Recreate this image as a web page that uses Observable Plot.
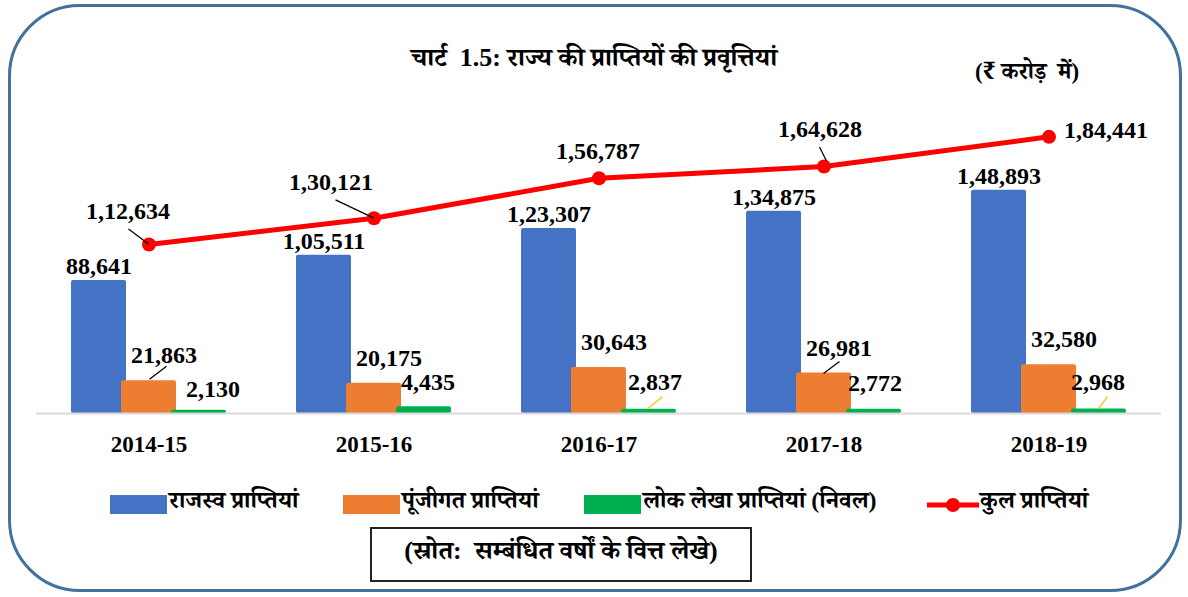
<!DOCTYPE html>
<html>
<head>
<meta charset="utf-8">
<script src="https://cdn.jsdelivr.net/npm/d3@7"></script>
<script src="https://cdn.jsdelivr.net/npm/@observablehq/plot@0.6"></script>
<style>
  html, body { margin: 0; padding: 0; background: #fff; }
  #page { position: relative; width: 1188px; height: 597px; overflow: hidden;
    font-family: "Liberation Serif", "Times New Roman", "Noto Serif Devanagari", "Noto Sans Devanagari", serif; font-weight: bold; color: #000; }
  #frame { position: absolute; left: 8px; top: 4px; width: 1168px; height: 582px; border: 3px solid #41719C; border-radius: 72px; }
  #title { position: absolute; left: 0; width: 1188px; top: 42px; text-align: center; font-size: 26px; white-space: pre; }
  #unit { position: absolute; left: 975px; top: 58px; font-size: 23px; white-space: pre; }
  #chart { position: absolute; left: 0; top: 90px; }
  .leg { position: absolute; top: 486px; font-size: 24px; display: flex; align-items: center; white-space: nowrap; }
  .sw { width: 57px; height: 19px; margin-right: 2px; }
  #source { position: absolute; left: 370px; top: 527px; width: 378px; height: 51px; border: 2px solid #222;
    display: flex; align-items: center; justify-content: center; font-size: 26px; white-space: pre; }
</style>
</head>
<body>
<div id="page">
  <div id="frame"></div>
  <div id="title"></div>
  <div id="unit"></div>
  <div id="chart"></div>
  <div id="legend"></div>
  <div id="source"></div>
</div>
<script>
// ---- data ----
const years = ["2014-15", "2015-16", "2016-17", "2017-18", "2018-19"];
const revenueReceipts = [88641, 105511, 123307, 134875, 148893];
const capitalReceipts = [21863, 20175, 30643, 26981, 32580];
const publicAccountReceipts = [2130, 4435, 2837, 2772, 2968];
const totalReceipts = [112634, 130121, 156787, 164628, 184441];
const seriesNames = ["राजस्व प्राप्तियां", "पूंजीगत प्राप्तियां", "लोक लेखा प्राप्तियां (निवल)", "कुल प्राप्तियां"];
const titleText = "चार्ट  1.5: राज्य की प्राप्तियों की प्रवृत्तियां";
const unitText = "(₹ करोड़  में)";
const sourceText = "(स्रोत:  सम्बंधित वर्षों के वित्त लेखे)";

// ---- styles ----
const colors = ["#4472C4", "#ED7D31", "#00B050", "#FF0000"];
const FONT = `"Liberation Serif", "Times New Roman", serif`;

document.getElementById("title").textContent = titleText;
document.getElementById("unit").textContent = unitText;
document.getElementById("source").textContent = sourceText;

// Indian number format
function fmtIN(v) {
  const s = String(Math.round(v));
  if (s.length <= 3) return s;
  const last3 = s.slice(-3);
  let rest = s.slice(0, -3);
  const parts = [];
  while (rest.length > 2) { parts.unshift(rest.slice(-2)); rest = rest.slice(0, -2); }
  if (rest.length) parts.unshift(rest);
  return parts.join(",") + "," + last3;
}

const rows = years.map((y, i) => ({
  year: y, rev: revenueReceipts[i], cap: capitalReceipts[i], pub: publicAccountReceipts[i], total: totalReceipts[i]
}));

// label offsets (pixels) -- styling
const totalOff = [[-21, -33, "middle"], [-43, -36, "middle"], [-1, -27, "middle"], [-4, -37, "middle"], [15, -7, "start"]];
const pubDx = [14, 4, 6, 1, -1];
const pubDy = [-21, -25, -27, -26, -27];

const BW = 55, STEP = 50, INSET = (225 - BW) / 2;
const textStyle = {fontFamily: FONT, fontWeight: "bold", fontSize: 24, fill: "#000"};

function barMark(key, color, dx) {
  return Plot.barY(rows, {x: "year", y: key, fill: color, dx, insetLeft: INSET, insetRight: INSET, rx: 2});
}

// leader lines drawn via scales
const leaders = [
  // [field, year index, barOffset, x1off,y1off,x2off,y2off, color]
  ["total", 0, 0, 0, 0, -20, -15, "#000"],
  ["total", 1, 0, 0, 0, -38, -18, "#000"],
  ["total", 3, 0, 3, -5, -4, -19, "#000"],
  ["cap", 0, 0, 1, -1, 18, -14, "#000"],
  ["cap", 3, 0, 0, 1, 16, -11, "#000"],
  ["pub", 2, STEP, -1, 0, 14, -12, "#FFC000"],
  ["pub", 4, STEP, 0, 0, 9, -12, "#FFC000"]
];
function leaderMark(index, scales) {
  const g = d3.create("svg:g");
  const bw = scales.x.bandwidth ? scales.x.bandwidth() : 0;
  for (const [f, i, bo, x1, y1, x2, y2, c] of leaders) {
    const cx = scales.x(rows[i].year) + bw / 2 + bo;
    const cy = scales.y(rows[i][f]);
    g.append("line").attr("x1", cx + x1).attr("y1", cy + y1).attr("x2", cx + x2).attr("y2", cy + y2)
      .attr("stroke", c).attr("stroke-width", 1.3);
  }
  return g.node();
}

const marks = [
  barMark("rev", colors[0], -STEP),
  barMark("cap", colors[1], 0),
  barMark("pub", colors[2], STEP),
  Plot.ruleY([0], {stroke: "#D9D9D9", strokeWidth: 2}),
  Plot.line(rows, {x: "year", y: "total", stroke: colors[3], strokeWidth: 5}),
  Plot.dot(rows, {x: "year", y: "total", r: 7, fill: colors[3]}),
  leaderMark,
  Plot.text(rows, {x: "year", y: "rev", text: d => fmtIN(d.rev), dx: -STEP, dy: -14, ...textStyle}),
  Plot.text(rows, {x: "year", y: "cap", text: d => fmtIN(d.cap), dx: 15, dy: -25, ...textStyle}),
  ...rows.map((r, i) => Plot.text([r], {x: "year", y: "pub", text: d => fmtIN(d.pub), dx: STEP + pubDx[i], dy: pubDy[i], ...textStyle})),
  ...rows.map((r, i) => Plot.text([r], {x: "year", y: "total", text: d => fmtIN(d.total), dx: totalOff[i][0], dy: totalOff[i][1], textAnchor: totalOff[i][2], ...textStyle}))
];

const chart = Plot.plot({
  width: 1188,
  height: 370,
  marginLeft: 36,
  marginRight: 27,
  marginTop: 23,
  marginBottom: 47,
  style: {fontFamily: FONT, background: "transparent", overflow: "visible"},
  x: {type: "band", domain: years, padding: 0, label: null, tickSize: 0, tickPadding: 22},
  y: {domain: [0, 200000], axis: null},
  marks
});
const xa = chart.querySelector("[aria-label='x-axis tick label']") || chart.querySelector("[aria-label='x-axis']");
if (xa) { xa.setAttribute("font-size", "23"); xa.setAttribute("font-weight", "bold"); }
document.getElementById("chart").appendChild(chart);

// legend
const legX = [110, 343, 584, 926];
const legend = document.getElementById("legend");
seriesNames.forEach((name, i) => {
  const item = document.createElement("div");
  item.className = "leg";
  item.style.left = legX[i] + "px";
  if (i < 3) {
    const sw = document.createElement("div");
    sw.className = "sw"; sw.style.background = colors[i];
    item.appendChild(sw);
  } else {
    const svg = d3.create("svg").attr("width", 54).attr("height", 20);
    svg.append("line").attr("x1", 1).attr("x2", 53).attr("y1", 10).attr("y2", 10).attr("stroke", colors[3]).attr("stroke-width", 5);
    svg.append("circle").attr("cx", 27).attr("cy", 10).attr("r", 7).attr("fill", colors[3]);
    item.appendChild(svg.node());
  }
  const t = document.createElement("span");
  t.textContent = name;
  item.appendChild(t);
  legend.appendChild(item);
});
</script>
</body>
</html>
